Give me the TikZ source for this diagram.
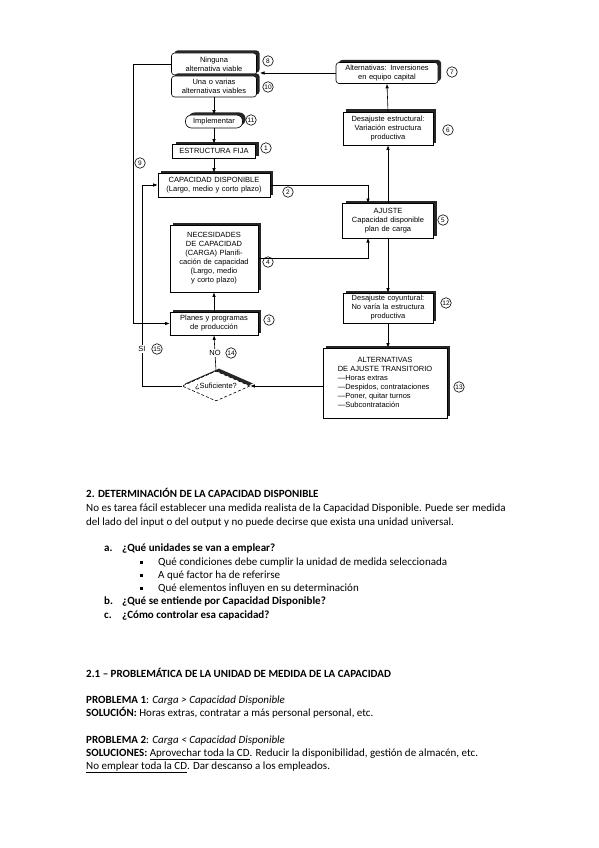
\documentclass[tikz,border=0pt]{standalone}
\usepackage{fontspec}
\setmainfont{Carlito}
\newfontfamily\diagfont{Liberation Sans}
\usetikzlibrary{arrows.meta,shapes.geometric}
\begin{document}
\begin{tikzpicture}[x=1pt,y=-1pt,
  box/.style={draw=black, line width=0.6pt, fill=white, align=center, inner xsep=2pt, inner ysep=1pt,
    font=\diagfont\fontsize{7.5}{9}\selectfont},
  shbox/.style={box, preaction={fill=black!85, transform canvas={xshift=3pt,yshift=2.5pt}}},
  num/.style={draw, circle, line width=0.6pt, inner sep=0.3pt, minimum size=10.5pt, fill=white,
    font=\diagfont\fontsize{6.5}{7}\selectfont},
  arr/.style={-{Latex[length=4.5pt,width=3.5pt]}, line width=0.6pt},
  ln/.style={line width=0.6pt},
  lbl/.style={fill=white, inner sep=1pt, font=\diagfont\fontsize{7.5}{8}\selectfont},
  body/.style={anchor=base west, inner sep=0pt, font=\fontsize{11}{13}\selectfont},
  bodyb/.style={body, font=\fontsize{11}{13}\selectfont\bfseries},
]
\fill[white] (0,0) rectangle (599,848);
\useasboundingbox (0,0) rectangle (599,848);

% ---------- left column ----------
\node[shbox, rounded corners=3pt, minimum width=85, minimum height=22, text width=81] (ninguna) at (214,64) {Ninguna\\alternativa viable};
\node[shbox, rounded corners=3pt, minimum width=85, minimum height=21, text width=81] (una) at (214,86.5) {Una o varias\\alternativas viables};
\node[shbox, rounded corners=6pt, minimum width=57, minimum height=13, text width=53] (impl) at (214,121.5) {Implementar};
\node[shbox, minimum width=83, minimum height=14, text width=79] (estr) at (214,151) {ESTRUCTURA FIJA};
\node[shbox, minimum width=112, minimum height=24, text width=108] (cap) at (214,185) {CAPACIDAD DISPONIBLE\\(Largo, medio y corto plazo)};
\node[shbox, minimum width=88, minimum height=67, text width=84] (nec) at (214,258.5) {NECESIDADES\\DE CAPACIDAD\\(CARGA) Planifi-\\cación de capacidad\\(Largo, medio\\y corto plazo)};
\node[shbox, minimum width=88, minimum height=23, text width=84] (planes) at (214,323.5) {Planes y programas\\de producción};
\node[box, diamond, densely dashed, aspect=2.2, inner sep=0pt, minimum width=68, minimum height=30,
  preaction={fill=black!85, transform canvas={xshift=3pt,yshift=2.5pt}}] (diam) at (216,386) {\makebox[0pt]{¿Suficiente?}};

% ---------- right column ----------
\node[shbox, rounded corners=3pt, minimum width=102, minimum height=21, text width=98] (altinv) at (387,73) {Alternativas: Inversiones\\en equipo capital};
\node[shbox, minimum width=90, minimum height=33, text width=86] (destr) at (388,128.5) {Desajuste estructural:\\Variación estructura\\productiva};
\node[shbox, minimum width=91, minimum height=35, text width=87] (ajuste) at (388,220.5) {AJUSTE\\Capacidad disponible\\plan de carga};
\node[shbox, minimum width=90, minimum height=30, text width=86] (coy) at (388,308) {Desajuste coyuntural:\\No varía la estructura\\productiva};
\node[shbox, minimum width=124, minimum height=70, align=left] (alttrans) at (385,383) {\def\arraystretch{1}\begin{tabular}{@{}l@{}}
\multicolumn{1}{@{}c@{}}{ALTERNATIVAS}\\
\multicolumn{1}{@{}c@{}}{DE AJUSTE TRANSITORIO}\\
—Horas extras\\
—Despidos, contrataciones\\
—Poner, quitar turnos\\
—Subcontratación
\end{tabular}};

% ---------- number circles ----------
\node[num] (n8) at (268,61) {8};
\node[num] (n10) at (268,87) {10};
\node[num] (n11) at (251,120) {11};
\node[num] (n1) at (266,148) {1};
\node[num] (n9) at (140,163) {9};
\node[num] (n2) at (288,192) {2};
\node[num] (n4) at (268,262) {4};
\node[num] (n3) at (269,320) {3};
\node[num] (n7) at (452,72) {7};
\node[num] (n6) at (448,130) {6};
\node[num] (n5) at (443,220) {5};
\node[num] (n12) at (446,303) {12};
\node[num] (n13) at (459,387) {13};

% ---------- coordinates ----------
\coordinate (jn) at (260,73);
\coordinate (c9) at (133,64);
\coordinate (cs) at (142,386);
\coordinate (a1) at (368,203);
\coordinate (a2) at (368,238);

% ---------- connectors ----------
\draw[arr] (altinv.west) -- (jn);
\draw[arr] (ninguna.west) -- (c9) |- (planes.west);
\draw[arr] (una.south) -- (impl.north);
\draw[arr] (impl.south) -- (estr.north);
\draw[arr] (estr.south) -- (cap.north);
\draw[arr] (cap.east) -| (a1);
\draw[arr] (nec.east) -| (a2);
\draw[arr] (ajuste.north) -- (destr.south);
\draw[arr] (destr.north) -- (altinv.south);
\draw[arr] (ajuste.south) -- (coy.north);
\draw[arr] (coy.south) -- (coy.south |- alttrans.north);
\draw[arr] (alttrans.west |- diam.east) -- (diam.east);
\draw[arr] (planes.north) -- (nec.south);
\draw[arr] (diam.north) -- (planes.south);
\draw[arr] (diam.west) -- (cs) |- (cap.west);

\node[lbl] (si) at (142,349) {SI};
\node[num] (n15) at (157,349) {15};
\node[lbl] (no) at (215,353) {NO};
\node[num] (n14) at (231,353) {14};

% ---------- body text ----------
\node[bodyb] (t1) at (86,497.5) {2. DETERMINACIÓN DE LA CAPACIDAD DISPONIBLE};
\node[body] (l1) at (86,511.5) {No es tarea fácil establecer una medida realista de la Capacidad Disponible. Puede ser medida};
\node[body] (l2) at (86,525.5) {del lado del input o del output y no puede decirse que exista una unidad universal.};
\node[bodyb] (la) at (104,551.5) {a.};
\node[bodyb] (qa) at (122,551.5) {¿Qué unidades se van a emplear?};
\node[fill=black, inner sep=0pt, minimum size=3pt] (b1) at (141,562) {};
\node[fill=black, inner sep=0pt, minimum size=3pt] (b2) at (141,575) {};
\node[fill=black, inner sep=0pt, minimum size=3pt] (b3) at (141,588) {};
\node[body] (s1) at (158,565.5) {Qué condiciones debe cumplir la unidad de medida seleccionada};
\node[body] (s2) at (158,578.5) {A qué factor ha de referirse};
\node[body] (s3) at (158,591.5) {Qué elementos influyen en su determinación};
\node[bodyb] (lb) at (104,604.5) {b.};
\node[bodyb] (qb) at (122,604.5) {¿Qué se entiende por Capacidad Disponible?};
\node[bodyb] (lc) at (104,618.5) {c.};
\node[bodyb] (qc) at (122,618.5) {¿Cómo controlar esa capacidad?};

\node[bodyb] (t2) at (86,677.5) {2.1 – PROBLEMÁTICA DE LA UNIDAD DE MEDIDA DE LA CAPACIDAD};
\node[body] (p1) at (86,703.5) {\textbf{PROBLEMA 1}: \textit{Carga > Capacidad Disponible}};
\node[body] (so1) at (86,716.5) {\textbf{SOLUCIÓN:} Horas extras, contratar a más personal personal, etc.};
\node[body] (p2) at (86,743.5) {\textbf{PROBLEMA 2}: \textit{Carga < Capacidad Disponible}};
\node[body] (so2) at (86,756.5) {\textbf{SOLUCIONES:} \underline{Aprovechar toda la CD}. Reducir la disponibilidad, gestión de almacén, etc.};
\node[body] (so3) at (86,769.5) {\underline{No emplear toda la CD}. Dar descanso a los empleados.};
\end{tikzpicture}
\end{document}
